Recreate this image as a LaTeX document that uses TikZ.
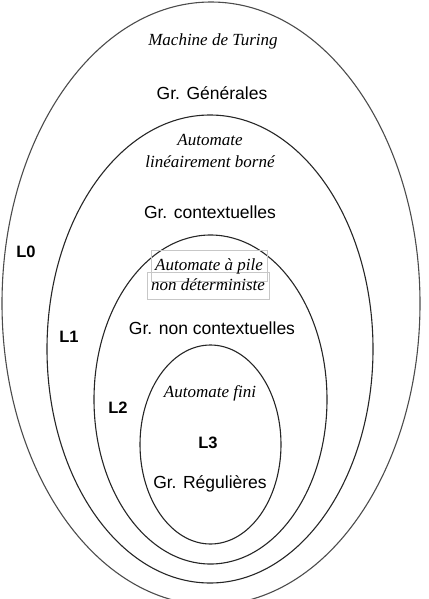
\documentclass[tikz,border=0pt]{standalone}
\usepackage{fontspec}
\setmainfont{Liberation Serif}
\setsansfont{Liberation Sans}

\tikzset{
  automate/.style={font=\fontsize{17}{22}\selectfont\itshape, align=center, inner sep=0pt},
  grammaire/.style={font=\sffamily\fontsize{17.5}{21}\selectfont, inner sep=0pt},
  niveau/.style={font=\sffamily\bfseries\fontsize{16.5}{20}\selectfont, inner sep=0pt},
  cadre/.style={draw=black!22, line width=0.8pt, inner sep=0pt},
  bord/.style={line width=1.1pt, black!85},
}

\begin{document}
\begin{tikzpicture}[x=1pt,y=-1pt]

\useasboundingbox (0,0) rectangle (428,599);
\clip (0,0) rectangle (428,599);
\coordinate (C0) at (211,303.5);
\coordinate (C1) at (210,349);
\coordinate (C2) at (210.5,399.5);
\coordinate (C3) at (210.5,444.5);

\draw [bord, black!70] (C0) ellipse [x radius=209, y radius=301.5];
\draw [bord] (C1) ellipse [x radius=163, y radius=234];
\draw [bord] (C2) ellipse [x radius=116.5, y radius=164.5];
\draw [bord] (C3) ellipse [x radius=70.5, y radius=99.5];

\node [automate] (turing) at (213,41) {Machine de Turing};
\node [grammaire] (gen) at (212,93) {Gr. Générales};
\node [automate] (lba) at (210,151) {Automate\\linéairement borné};
\node [grammaire] (ctx) at (210,212) {Gr. contextuelles};
\node [cadre, minimum width=116pt, minimum height=31pt] (pile1) at (209,265.5) {};
\node [cadre, minimum width=122pt, minimum height=27pt] (pile2) at (208,285.5) {};
\node [automate] at (209,266) {Automate à pile};
\node [automate] at (208,285) {non déterministe};
\node [grammaire] (nonctx) at (212,328) {Gr. non contextuelles};
\node [automate] (fini) at (210,393) {Automate fini};
\node [grammaire] (reg) at (210,484) {Gr. Régulières};

\node [niveau] (L0) at (26,252) {L0};
\node [niveau] (L1) at (69,337) {L1};
\node [niveau] (L2) at (118,408) {L2};
\node [niveau] (L3) at (208,443) {L3};
\end{tikzpicture}
\end{document}
